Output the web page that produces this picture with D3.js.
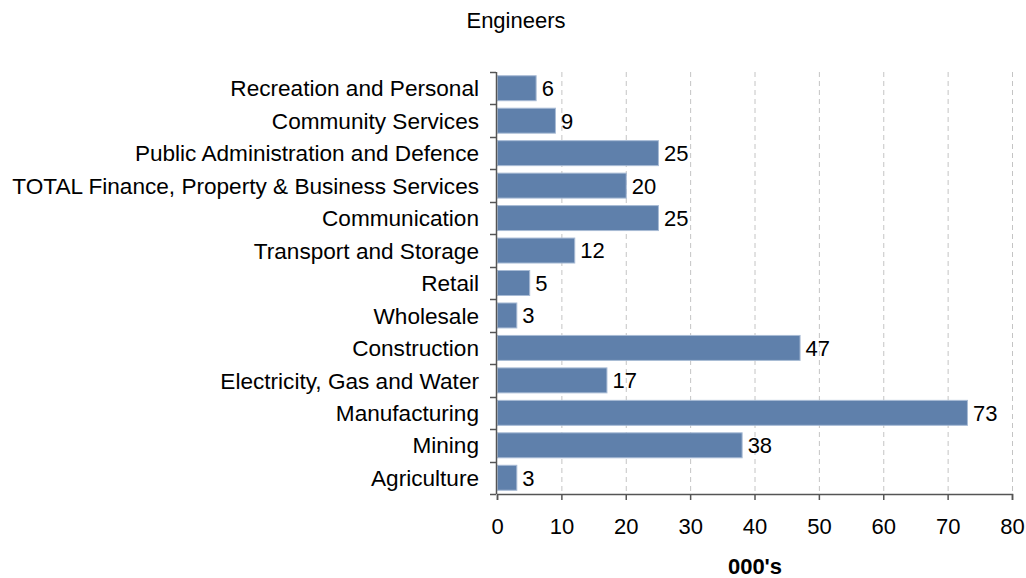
<!DOCTYPE html>
<html>
<head>
<meta charset="utf-8">
<script src="https://cdn.jsdelivr.net/npm/d3@7"></script>
<style>
  html, body { margin: 0; padding: 0; background: #ffffff; }
  svg { display: block; font-family: "Liberation Sans", Arial, sans-serif; }
</style>
</head>
<body>
<svg id="chart" width="1026" height="578"></svg>
<script>
// Engineers employed by industry, thousands
const categories = [
  "Recreation and Personal",
  "Community Services",
  "Public Administration and Defence",
  "TOTAL Finance, Property & Business Services",
  "Communication",
  "Transport and Storage",
  "Retail",
  "Wholesale",
  "Construction",
  "Electricity, Gas and Water",
  "Manufacturing",
  "Mining",
  "Agriculture"
];
const values = [6, 9, 25, 20, 25, 12, 5, 3, 47, 17, 73, 38, 3];
const xTicks = [0, 10, 20, 30, 40, 50, 60, 70, 80];
const chartTitle = "Engineers";
const xTitle = "000's";

const svg = d3.select("#chart");
const plotLeft = 497, plotRight = 1012, plotTop = 72, plotBottom = 494;
const fontSize = 22;
const labelSize = 22.6;

const x = d3.scaleLinear().domain([0, 80]).range([plotLeft, plotRight]);
const y = d3.scaleBand().domain(categories).range([plotTop, plotBottom])
  .paddingInner(0.2).paddingOuter(0.1);

// vertical dashed gridlines
svg.append("g")
  .selectAll("line")
  .data(xTicks.filter(t => t > 0))
  .join("line")
  .attr("x1", d => x(d) + 0.5).attr("x2", d => x(d) + 0.5)
  .attr("y1", plotTop).attr("y2", plotBottom)
  .attr("stroke", "#c4c4c4")
  .attr("stroke-width", 1)
  .attr("stroke-dasharray", "5,4");

// bars
svg.append("g")
  .selectAll("rect")
  .data(values)
  .join("rect")
  .attr("x", x(0) + 0.5)
  .attr("y", (d, i) => y(categories[i]) + 0.5)
  .attr("width", d => x(d) - x(0))
  .attr("height", y.bandwidth() - 1)
  .attr("fill", "#5f80ab")
  .attr("stroke", "#a8bbd5")
  .attr("stroke-width", 1);

// value labels
svg.append("g")
  .selectAll("text")
  .data(values)
  .join("text")
  .attr("x", d => x(d) + 6)
  .attr("y", (d, i) => y(categories[i]) + y.bandwidth() / 2)
  .attr("dy", "0.36em")
  .attr("font-size", fontSize)
  .attr("fill", "#000")
  .text(d => d);

// category axis
const yAxis = svg.append("g");
yAxis.append("line")
  .attr("x1", plotLeft - 1 + 0.5).attr("x2", plotLeft - 1 + 0.5)
  .attr("y1", plotTop).attr("y2", plotBottom)
  .attr("stroke", "#555").attr("stroke-width", 1.5);
const boundaries = d3.range(categories.length + 1).map(i => plotTop + i * y.step());
yAxis.selectAll("line.tick")
  .data(boundaries)
  .join("line")
  .attr("class", "tick")
  .attr("x1", plotLeft - 7).attr("x2", plotLeft - 1)
  .attr("y1", d => Math.round(d) + 0.5).attr("y2", d => Math.round(d) + 0.5)
  .attr("stroke", "#555").attr("stroke-width", 1.5);
yAxis.selectAll("text")
  .data(categories)
  .join("text")
  .attr("x", plotLeft - 18)
  .attr("y", d => y(d) + y.bandwidth() / 2)
  .attr("dy", "0.36em")
  .attr("text-anchor", "end")
  .attr("font-size", labelSize)
  .attr("fill", "#000")
  .text(d => d);

// value axis
const xAxis = svg.append("g")
  .attr("transform", `translate(0,${plotBottom})`)
  .call(d3.axisBottom(x).tickValues(xTicks).tickSize(6).tickPadding(18).tickFormat(d3.format("d")));
xAxis.select(".domain").attr("stroke", "#555").attr("stroke-width", 1.5);
xAxis.selectAll(".tick line").attr("stroke", "#555").attr("stroke-width", 1.5);
xAxis.selectAll(".tick text")
  .attr("font-size", fontSize)
  .attr("font-family", "Liberation Sans, Arial, sans-serif")
  .attr("fill", "#000");

// titles
svg.append("text")
  .attr("x", 516).attr("y", 28)
  .attr("text-anchor", "middle")
  .attr("font-size", fontSize)
  .attr("fill", "#000")
  .text(chartTitle);

svg.append("text")
  .attr("x", 755).attr("y", 574)
  .attr("text-anchor", "middle")
  .attr("font-size", fontSize)
  .attr("font-weight", "bold")
  .attr("fill", "#000")
  .text(xTitle);
</script>
</body>
</html>
